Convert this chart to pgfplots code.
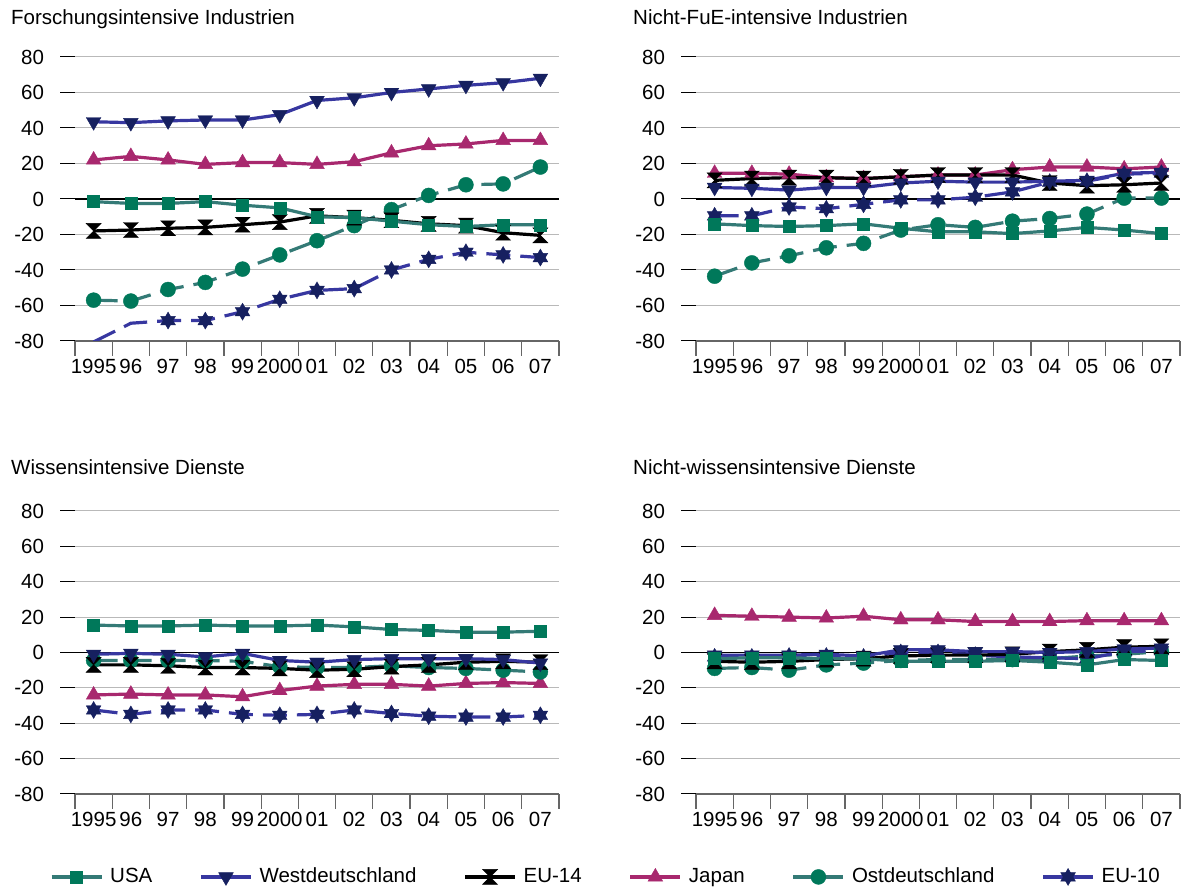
\documentclass[border=0pt]{standalone}
\usepackage{fontspec}
\setmainfont{Liberation Sans}
\usepackage{pgfplots}
\usepackage{pgfplotstable}
\pgfplotsset{compat=1.18}

\definecolor{tealline}{RGB}{52,122,118}
\definecolor{greenmk}{RGB}{0,120,90}
\definecolor{blueline}{RGB}{55,55,160}
\definecolor{navymk}{RGB}{22,32,96}
\definecolor{magentaj}{RGB}{168,40,110}

\pgfdeclareplotmark{hourglass}{%
 \pgfpathmoveto{\pgfqpoint{-\pgfplotmarksize}{\pgfplotmarksize}}%
 \pgfpathlineto{\pgfqpoint{\pgfplotmarksize}{\pgfplotmarksize}}%
 \pgfpathlineto{\pgfqpoint{0pt}{0pt}}%
 \pgfpathclose
 \pgfpathmoveto{\pgfqpoint{-\pgfplotmarksize}{-\pgfplotmarksize}}%
 \pgfpathlineto{\pgfqpoint{\pgfplotmarksize}{-\pgfplotmarksize}}%
 \pgfpathlineto{\pgfqpoint{0pt}{0pt}}%
 \pgfpathclose
 \pgfusepathqfillstroke}

\pgfdeclareplotmark{david}{%
 \pgfpathmoveto{\pgfqpoint{0pt}{\pgfplotmarksize}}%
 \pgfpathlineto{\pgfqpoint{-0.866\pgfplotmarksize}{-0.5\pgfplotmarksize}}%
 \pgfpathlineto{\pgfqpoint{0.866\pgfplotmarksize}{-0.5\pgfplotmarksize}}%
 \pgfpathclose
 \pgfpathmoveto{\pgfqpoint{0pt}{-\pgfplotmarksize}}%
 \pgfpathlineto{\pgfqpoint{0.866\pgfplotmarksize}{0.5\pgfplotmarksize}}%
 \pgfpathlineto{\pgfqpoint{-0.866\pgfplotmarksize}{0.5\pgfplotmarksize}}%
 \pgfpathclose
 \pgfusepathqfillstroke}

\pgfplotstableread{
x usa west eu14 japan ost eu10
0 -1.5 43.5 -18 22 -57 -80.5
1 -2.5 43 -17.5 24 -57.5 -70
2 -2.5 44 -16.5 22 -51 -68.5
3 -1.5 44.5 -16 19.5 -47 -68.5
4 -3.5 44.5 -14.5 20.5 -39.5 -63.5
5 -5 47.5 -13 20.5 -31.5 -56.5
6 -10 55.5 -9.5 19.5 -23.5 -51.5
7 -10.5 57 -10.5 21 -15 -50.5
8 -12.5 60 -12 26 -6 -40
9 -14.5 62 -14 30 2 -34
10 -15.5 64 -15 31 8 -30
11 -14.5 65.5 -19 33 8.5 -31.5
12 -14.5 68 -20.5 33 18 -33
}\tabTL

\pgfplotstableread{
x usa west eu14 japan ost eu10
0 -14 6.5 10.5 14.5 -43.5 -9.5
1 -15 6 11.5 14.5 -36 -9.5
2 -15.5 5 12 14 -32 -4.5
3 -15 6.5 12 12 -27.5 -5.5
4 -14 6.5 11.5 11.5 -25 -3
5 -16.5 9 12.5 12.5 -17.5 -0.5
6 -18.5 10 13.5 13.5 -14.5 -0.5
7 -18.5 9.5 13.5 13.5 -16 1
8 -19.5 9.5 13.5 16.5 -12.5 4
9 -18 10 9 18 -11 9.5
10 -16 10.5 7.5 18 -8.5 10
11 -17.5 14.5 8 17 0.5 14
12 -19.5 15 9 18 0.5 14.5
}\tabTR

\pgfplotstableread{
x usa west eu14 japan ost eu10
0 15.5 -1 -7 -24 -4.5 -32.5
1 15 -0.5 -7 -23.5 -4.5 -35
2 15 -1 -7.5 -24 -4.5 -32.5
3 15.5 -2.5 -8.5 -24 -4.5 -32.5
4 15 -0.5 -8.5 -25 -5 -35
5 15 -4.5 -9 -21.5 -8 -35.5
6 15.5 -5.5 -10 -19 -8.5 -35
7 14.5 -4 -9.5 -18 -8.5 -32.5
8 13 -3.5 -8 -18 -7.5 -34.5
9 12.5 -3.5 -7 -19 -8.5 -36
10 11.5 -3.5 -5.5 -17.5 -9 -36.5
11 11.5 -4 -5 -17 -10 -36.5
12 12 -6 -5.5 -17.5 -11 -35.5
}\tabBL

\pgfplotstableread{
x usa west eu14 japan ost eu10
0 -3.5 -1.5 -5 21 -9 -2.5
1 -3 -1.5 -5.5 20.5 -8.5 -2.5
2 -3 -1.5 -5 20 -10 -2
3 -3.5 -1 -4 19.5 -7 -2
4 -3.5 -2 -3.5 20.5 -6 -2.5
5 -5 1.5 -2 18.5 -4.5 0
6 -5 1.5 -1.5 18.5 -4 0
7 -5 0.5 -1.5 17.5 -4 -1.5
8 -4.5 0.5 -1 17.5 -4 -2.5
9 -5.5 0 0.5 17.5 -3.5 -3
10 -7 0.5 1.5 18 -2 -3.5
11 -4 2 3 18 -1 0.5
12 -4.5 2.5 3.5 18 0.5 1
}\tabBR

\pgfplotsset{
 sUSA/.style={tealline, line width=3.2pt, mark=square*, mark size=6pt,
   mark options={solid, fill=greenmk, draw=greenmk, line width=0.4pt}},
 sWest/.style={blueline, line width=3.2pt, mark=triangle*, mark size=8.5pt,
   mark options={solid, rotate=180, fill=navymk, draw=navymk, line width=0.4pt}},
 sEUfourteen/.style={black, line width=3.2pt, mark=hourglass, mark size=7.5pt,
   mark options={solid, fill=black, draw=black, line width=0.4pt}},
 sJapan/.style={magentaj, line width=3.2pt, mark=triangle*, mark size=8.5pt,
   mark options={solid, fill=magentaj, draw=magentaj, line width=0.4pt}},
 sOst/.style={tealline, line width=3.2pt, dash pattern=on 24pt off 10pt, mark=*, mark size=7.5pt,
   mark options={solid, fill=greenmk, draw=greenmk, line width=0.4pt}},
 sEUten/.style={blueline, line width=3.2pt, dash pattern=on 24pt off 10pt, mark=david, mark size=8.5pt,
   mark options={solid, fill=navymk, draw=navymk, line width=0.4pt}},
 panel/.style={
   scale only axis, width=484pt,
   xmin=-0.5, xmax=12.5, ymin=-80, ymax=80,
   ytick={-80,-60,...,80},
   xtick={-0.5,0.5,...,12.5},
   xticklabels={1995,96,97,98,99,2000,01,02,03,04,05,06,07,{}},
   axis x line=bottom, axis y line=left,
   x axis line style={-, black!60, line width=1.2pt},
   y axis line style={draw=none},
   tick align=outside,
   major tick length=15pt,
   xtick style={black!60, line width=1.2pt},
   ytick style={black, line width=1pt},
   ymajorgrids, major grid style={gray!55, line width=1pt},
   /pgf/number format/assume math mode=true,
   tick label style={font=\fontsize{20.5}{24}\selectfont, text=black},
   yticklabel style={xshift=-9pt},
   xticklabel style={xshift=18.62pt, yshift=4pt},
   legend image code/.code={\draw[mark repeat=2,mark phase=2,##1,solid] plot coordinates {(0pt,0pt)(25pt,0pt)(50pt,0pt)};},
 }
}

\newcommand{\panelplots}[2]{%
 \draw[black, line width=1.3pt] (axis cs:-0.5,0) -- (axis cs:12.5,0);
 \addplot[sJapan, forget plot] table[x=x,y=japan]{#1};
 \addplot[sOst, forget plot] table[x=x,y=ost]{#1};
 \addplot[sEUten, forget plot, #2] table[x=x,y=eu10]{#1};
 \addplot[sEUfourteen, forget plot] table[x=x,y=eu14]{#1};
 \addplot[sWest, forget plot] table[x=x,y=west]{#1};
 \addplot[sUSA, forget plot] table[x=x,y=usa]{#1};
}

\begin{document}
\fontsize{20.5}{24}\selectfont
\begin{tikzpicture}
\useasboundingbox (0,0) rectangle (1182pt,890pt);

\begin{axis}[panel, height=284pt, at={(75pt,549pt)}, anchor=south west]
\panelplots{\tabTL}{mark indices={2,...,13}}
\end{axis}

\begin{axis}[panel, height=284pt, at={(696pt,549pt)}, anchor=south west]
\panelplots{\tabTR}{}
\end{axis}

\begin{axis}[panel, height=283pt, at={(75pt,96pt)}, anchor=south west,
  legend columns=6,
  legend style={draw=none, fill=none, at={(-0.052,-0.293)}, anchor=west, inner sep=0pt,
    font=\fontsize{20.5}{24}\selectfont,
    /tikz/every odd column/.append style={column sep=5pt},
    /tikz/every even column/.append style={column sep=45pt}},
  legend cell align=left]
\panelplots{\tabBL}{}
\addlegendimage{sUSA}\addlegendentry{USA}
\addlegendimage{sWest}\addlegendentry{Westdeutschland}
\addlegendimage{sEUfourteen}\addlegendentry{EU-14}
\addlegendimage{sJapan}\addlegendentry{Japan}
\addlegendimage{sOst}\addlegendentry{Ostdeutschland}
\addlegendimage{sEUten}\addlegendentry{EU-10}
\end{axis}

\begin{axis}[panel, height=283pt, at={(696pt,96pt)}, anchor=south west]
\panelplots{\tabBR}{}
\end{axis}

\node[anchor=base west, inner sep=0pt] at (11pt,865pt) {Forschungsintensive Industrien};
\node[anchor=base west, inner sep=0pt] at (633pt,865pt) {Nicht-FuE-intensive Industrien};
\node[anchor=base west, inner sep=0pt] at (11pt,415pt) {Wissensintensive Dienste};
\node[anchor=base west, inner sep=0pt] at (633pt,415pt) {Nicht-wissensintensive Dienste};
\end{tikzpicture}
\end{document}
